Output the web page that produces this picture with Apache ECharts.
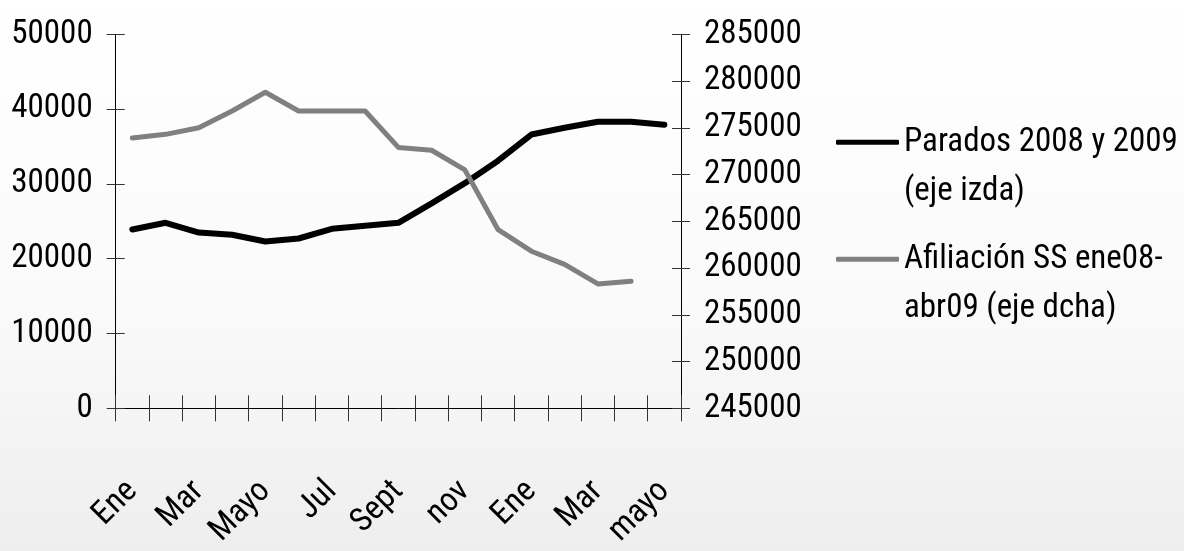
<!DOCTYPE html>
<html>
<head>
<meta charset="utf-8">
<script src="https://cdn.jsdelivr.net/npm/echarts@6/dist/echarts.min.js"></script>
<style>
html,body{margin:0;padding:0;}
#c{width:1184px;height:551px;}
</style>
</head>
<body>
<div id="c"></div>
<script>
const categories = ['Ene','Feb','Mar','Abr','Mayo','Jun','Jul','Ago','Sept','Oct','nov','dic','Ene','Feb','Mar','Abr','mayo'];
const parados = [23900, 24800, 23500, 23200, 22300, 22700, 24000, 24400, 24800, 27400, 30100, 33100, 36600, 37500, 38300, 38300, 37900];
const afiliacion = [273900, 274300, 275000, 276800, 278800, 276800, 276800, 276800, 272900, 272600, 270500, 264100, 261800, 260400, 258300, 258600, null];
const leftTicks = {min: 0, max: 50000, interval: 10000};
const rightTicks = {min: 245000, max: 285000, interval: 5000};
const seriesNames = ['Parados 2008 y 2009 (eje izda)', 'Afiliación SS ene08-abr09 (eje dcha)'];
const legendLines = {
  'Parados 2008 y 2009 (eje izda)': 'Parados 2008 y 2009\n(eje izda)',
  'Afiliación SS ene08-abr09 (eje dcha)': 'Afiliación SS ene08-\nabr09 (eje dcha)'
};

const FONT = '"Roboto Condensed", "Liberation Sans Narrow", sans-serif';
const FS = 33;
const LH = 49;
const axisCol = '#000';
const tickCol = '#333';

const chart = echarts.init(document.getElementById('c'), null, {renderer: 'canvas'});

function yAxisBase(t, pos, inside, show) {
  return {
    type: 'value', position: pos, min: t.min, max: t.max, interval: t.interval,
    splitLine: {show: false},
    axisLine: {show: show, lineStyle: {color: axisCol, width: 1}},
    axisTick: {show: true, inside: inside, length: 9, lineStyle: {color: tickCol, width: 1}},
    axisLabel: {show: show, margin: 23, color: '#000', fontFamily: FONT, fontSize: FS, formatter: v => String(v)}
  };
}

const legendCommon = {
  orient: 'vertical', left: 836, padding: 0, itemWidth: 63, itemHeight: 5,
  icon: 'roundRect',
  formatter: n => '\n' + legendLines[n],
  textStyle: {color: '#000', fontFamily: FONT, fontSize: FS, lineHeight: LH},
  selectedMode: false
};

chart.setOption({
  backgroundColor: {
    type: 'linear', x: 0, y: 0, x2: 0, y2: 1,
    colorStops: [
      {offset: 0, color: '#ffffff'},
      {offset: 0.55, color: '#fafafa'},
      {offset: 1, color: '#eeeeee'}
    ]
  },
  animation: false,
  grid: {left: 115.7, right: 503, top: 34.3, bottom: 142.7, containLabel: false, outerBoundsMode: 'none'},
  legend: [
    Object.assign({}, legendCommon, {data: [seriesNames[0]], top: 142.3 - 1.5 * LH}),
    Object.assign({}, legendCommon, {data: [seriesNames[1]], top: 259.3 - 1.5 * LH})
  ],
  xAxis: [
    {
      type: 'category', data: categories, position: 'bottom', boundaryGap: true,
      axisLine: {show: true, lineStyle: {color: axisCol, width: 1}},
      axisTick: {show: true, interval: 0, length: 13, lineStyle: {color: tickCol, width: 1}},
      axisLabel: {interval: 1, rotate: 45, margin: 78, color: '#000', fontFamily: FONT, fontSize: FS}
    },
    {
      type: 'category', data: categories, position: 'bottom', boundaryGap: true,
      axisLine: {show: false},
      axisTick: {show: true, inside: true, interval: 0, length: 13, lineStyle: {color: tickCol, width: 1}},
      axisLabel: {show: false}
    }
  ],
  yAxis: [
    yAxisBase(leftTicks, 'left', false, true),
    yAxisBase(rightTicks, 'right', false, true),
    yAxisBase(leftTicks, 'left', true, false),
    yAxisBase(rightTicks, 'right', true, false)
  ],
  series: [
    {
      name: seriesNames[0], type: 'line', xAxisIndex: 0, yAxisIndex: 0, data: parados,
      symbol: 'none', showSymbol: false, lineStyle: {color: '#000', width: 6, cap: 'round', join: 'round'},
      itemStyle: {color: '#000'}
    },
    {
      name: seriesNames[1], type: 'line', xAxisIndex: 0, yAxisIndex: 1, data: afiliacion,
      symbol: 'none', showSymbol: false, lineStyle: {color: '#808080', width: 5, cap: 'round', join: 'round'},
      itemStyle: {color: '#808080'}
    }
  ]
});
</script>
</body>
</html>
